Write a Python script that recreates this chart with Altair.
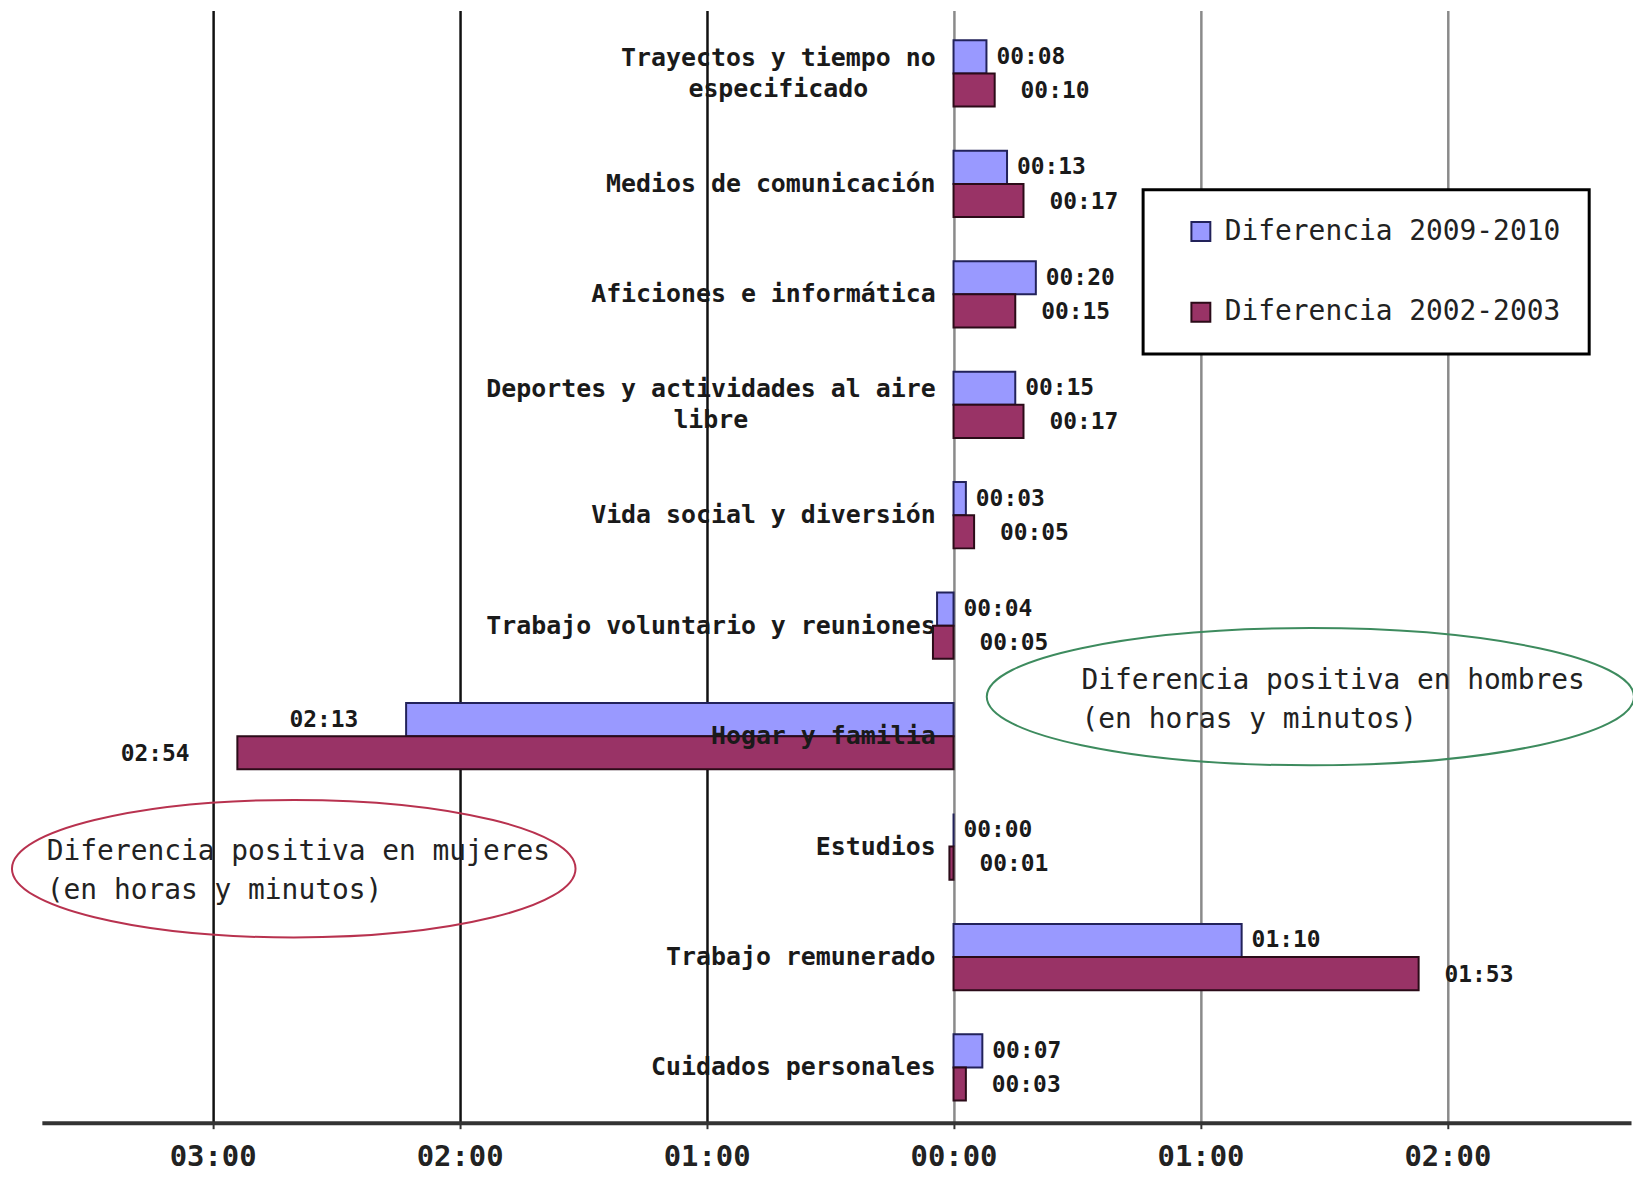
import altair as alt
import pandas as pd

# ---------------- data ----------------
categories = [
    "Trayectos y tiempo no\nespecificado",
    "Medios de comunicación",
    "Aficiones e informática",
    "Deportes y actividades al aire\nlibre",
    "Vida social y diversión",
    "Trabajo voluntario y reuniones",
    "Hogar y familia",
    "Estudios",
    "Trabajo remunerado",
    "Cuidados personales",
]
series = ["Diferencia 2009-2010", "Diferencia 2002-2003"]
# differences men - women, in minutes
diff_2009 = [8, 13, 20, 15, 3, -4, -133, 0, 70, 7]
diff_2002 = [10, 17, 15, 17, 5, -5, -174, -1, 113, 3]
tick_values = [-180, -120, -60, 0, 60, 120]
note_men = ["Diferencia positiva en hombres", "(en horas y minutos)"]
note_women = ["Diferencia positiva en mujeres", "(en horas y minutos)"]

# ---------------- layout / style ----------------
W, H = 1596, 1117
X_DOMAIN = [-221.5, 164.6]
Y_DOMAIN = [-0.57, 9.5]
FONT = "DejaVu Sans Mono"
CAT_FS = 25
VAL_FS = 23
NOTE_FS = 28
x0_px = (0 - X_DOMAIN[0]) / (X_DOMAIN[1] - X_DOMAIN[0]) * W

def hhmm(v):
    a = abs(v)
    return f"{a // 60:02d}:{a % 60:02d}"

rows = []
for i, cat in enumerate(categories):
    for s, vals, y0, y1, ly in [
        (series[0], diff_2009, i - 0.3, i, i - 0.15),
        (series[1], diff_2002, i, i + 0.3, i + 0.16),
    ]:
        v = vals[i]
        rows.append(dict(
            cat=cat, series=s, value=v, y0=y0, y1=y1, ly=ly,
            label=hhmm(v),
            lx=(v if v <= -30 else max(v, 0)),
            side=("left" if v <= -30 else "right"),
        ))
df = pd.DataFrame(rows)

xs = alt.Scale(domain=X_DOMAIN, nice=False, zero=False)
ys = alt.Scale(domain=Y_DOMAIN, nice=False, zero=False, reverse=True)

bars = alt.Chart(df).mark_bar(strokeWidth=2).encode(
    x=alt.X("value:Q", scale=xs, axis=alt.Axis(
        values=tick_values,
        labelExpr="'0' + floor(abs(datum.value)/60) + ':' + (abs(datum.value)%60 < 10 ? '0' : '') + (abs(datum.value)%60)",
        grid=True,
        gridColor={"condition": {"test": "datum.value < 0", "value": "#111111"}, "value": "#8a8a8a"},
        gridWidth=2.5,
        domainColor="#333333", domainWidth=4,
        tickColor="#333333", tickSize=6, tickWidth=2,
        labelFont=FONT, labelFontSize=29, labelFontWeight="bold", labelColor="#222222",
        labelPadding=14, labelFlush=False, title=None,
    )),
    x2=alt.datum(0),
    y=alt.Y("y0:Q", scale=ys, axis=alt.Axis(
        values=[i - 0.5 for i in range(len(categories) + 1)],
        labels=False, grid=False,
        domainColor="#444444", domainWidth=2.5,
        tickColor="#222222", tickSize=7, tickWidth=2,
        offset=-x0_px, title=None,
    )),
    y2="y1:Q",
    color=alt.Color("series:N", scale=alt.Scale(domain=series, range=["#9999FF", "#993366"]),
                    legend=alt.Legend(
                        title=None, orient="none", legendX=1106, legendY=180,
                        symbolType="square", symbolSize=361, symbolStrokeColor="black",
                        symbolStrokeWidth=2, symbolOffset=16,
                        labelFont=FONT, labelFontSize=28, labelColor="#222222",
                        labelLimit=600, labelOffset=10, rowPadding=53, padding=28,
                        strokeColor="black", fillColor="white",
                    )),
    stroke=alt.Stroke("series:N", scale=alt.Scale(domain=series, range=["#22225a", "#2b0b18"]), legend=None),
)

# category labels
first_lines, second_layers = [], []
for i, cat in enumerate(categories):
    parts = cat.split("\n")
    if len(parts) == 1:
        first_lines.append(dict(t=parts[0], y=i))
    else:
        first_lines.append(dict(t=parts[0], y=i - 0.14))
        w1 = len(parts[0]) * 0.602 * CAT_FS
        second_layers.append(
            alt.Chart(pd.DataFrame([dict(t=parts[1], y=i + 0.14)])).mark_text(
                align="center", baseline="middle", dx=-18 - w1 / 2,
                font=FONT, fontSize=CAT_FS, fontWeight="bold", color="#1a1a1a",
            ).encode(x=alt.X(datum=0, scale=xs),
                     y=alt.Y("y:Q", scale=ys, axis=None), text="t:N")
        )

cat_text = alt.Chart(pd.DataFrame(first_lines)).mark_text(
    align="right", baseline="middle", dx=-18, font=FONT, fontSize=CAT_FS,
    fontWeight="bold", color="#1a1a1a",
).encode(x=alt.X(datum=0, scale=xs), y=alt.Y("y:Q", scale=ys, axis=None), text="t:N")

def val_layer(data, align, dx):
    return alt.Chart(data).mark_text(
        align=align, baseline="middle", dx=dx, font=FONT, fontSize=VAL_FS,
        fontWeight="bold", color="#1a1a1a",
    ).encode(x=alt.X("lx:Q", scale=xs), y=alt.Y("ly:Q", scale=ys, axis=None), text="label:N")

v1 = val_layer(df[(df.side == "right") & (df.series == series[0])], "left", 10)
v2 = val_layer(df[(df.side == "right") & (df.series == series[1])], "left", 26)
v3 = val_layer(df[df.side == "left"], "right", -48)

# annotations
men_df = pd.DataFrame(dict(t=note_men, x=[31.1, 31.1], y=[5.50, 5.85]))
women_df = pd.DataFrame(dict(t=note_women, x=[-220.3, -220.3], y=[7.05, 7.40]))

def note_layer(data):
    return alt.Chart(data).mark_text(
        align="left", baseline="middle", font=FONT, fontSize=NOTE_FS, color="#222222",
    ).encode(x=alt.X("x:Q", scale=xs), y=alt.Y("y:Q", scale=ys, axis=None), text="t:N")

def ellipse_path(r):
    k = 0.5523
    a, b = k * r, r
    return (f"M-1,0C-1,{-a:.4f},{-k:.4f},{-b:.4f},0,{-b:.4f}"
            f"C{k:.4f},{-b:.4f},1,{-a:.4f},1,0"
            f"C1,{a:.4f},{k:.4f},{b:.4f},0,{b:.4f}"
            f"C{-k:.4f},{b:.4f},-1,{a:.4f},-1,0Z")

def ellipse_layer(cx, cy, width_px, ratio, color):
    return alt.Chart(pd.DataFrame([dict(x=cx, y=cy)])).mark_point(
        shape=ellipse_path(ratio), size=width_px ** 2, filled=False,
        strokeWidth=2, color=color, opacity=1,
    ).encode(x=alt.X("x:Q", scale=xs), y=alt.Y("y:Q", scale=ys, axis=None))

ell_men = ellipse_layer(86.7, 5.643, 650, 0.212, "#3d8b5e")
ell_women = ellipse_layer(-160.3, 7.20, 566, 0.244, "#b8324f")

chart = alt.layer(
    bars, cat_text, *second_layers, v1, v2, v3,
    ell_men, ell_women, note_layer(men_df), note_layer(women_df),
).properties(
    width=W, height=H,
    padding={"left": 34, "top": 0, "right": 2, "bottom": 48},
    autosize=alt.AutoSizeParams(type="none"),
    background="white",
).configure_view(stroke=None).configure_legend(strokeWidth=3)

chart.save("out.html", embed_options={"renderer": "svg", "actions": False})
